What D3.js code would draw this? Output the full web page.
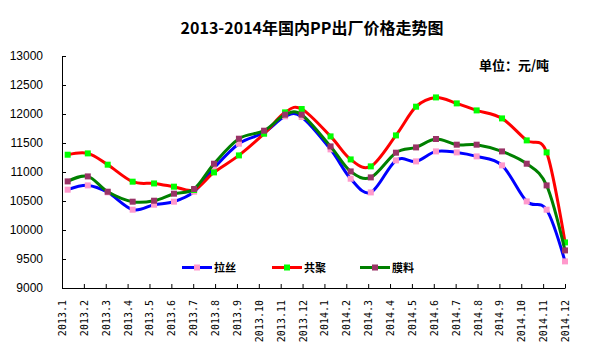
<!DOCTYPE html>
<html><head><meta charset="utf-8">
<script src="https://cdn.jsdelivr.net/npm/d3@7"></script>
<style>html,body{margin:0;padding:0;background:#fff;}</style>
</head><body>
<script>
// ---- data ----
const monthLabels = ["2013.1","2013.2","2013.3","2013.4","2013.5","2013.6","2013.7","2013.8","2013.9","2013.10","2013.11","2013.12",
  "2014.1","2014.2","2014.3","2014.4","2014.5","2014.6","2014.7","2014.8","2014.9","2014.10","2014.11","2014.12"];
// position of each observation on the month axis (month index + fraction of month)
const obsPos = [0.26,1.18,2.09,3.23,4.21,5.12,6.04,6.95,8.09,9.24,10.20,10.96,
  12.28,13.20,14.12,15.27,16.19,17.10,18.05,18.96,20.12,21.25,22.16,23.00];
const seriesNames = ["拉丝","共聚","膜料"];
const lasi   = [10695,10769,10650,10350,10436,10488,10660,11069,11488,11680,11960,11948,
  11390,10884,10648,11200,11183,11355,11338,11269,11114,10493,10350,9459];
const gongju = [11298,11321,11126,10833,10803,10747,10690,10993,11286,11660,12028,12086,
  11614,11217,11097,11631,12126,12286,12183,12062,11924,11545,11338,9786];
const moliao = [10838,10924,10660,10488,10505,10626,10707,11143,11574,11712,11988,11988,
  11441,11010,10907,11333,11424,11569,11471,11471,11355,11143,10769,9648];
const yTicks = [9000,9500,10000,10500,11000,11500,12000,12500,13000];
const lineColors = ["#0000FF","#FF0000","#008000"];
const markerColors = ["#FF99CC","#00FF00","#993366"];

const W = 614, H = 356;
const svg = d3.select("body").append("svg").attr("width", W).attr("height", H)
  .style("font-family", "'Liberation Sans', Arial, sans-serif");

const x = d3.scaleLinear().domain([0, monthLabels.length - 1]).range([62, 565]);
const y = d3.scaleLinear().domain([9000, 13000]).range([288, 56]);

// title
svg.append("text").attr("x", 312).attr("y", 34).attr("text-anchor", "middle")
  .style("font-family", "'Noto Sans CJK SC', sans-serif").style("font-weight", "bold")
  .style("font-size", "16px").text("2013-2014年国内PP出厂价格走势图");
// unit
svg.append("text").attr("x", 479).attr("y", 70)
  .style("font-family", "'Noto Sans CJK SC', sans-serif").style("font-weight", "bold")
  .style("font-size", "13px").text("单位：元/吨");

// y axis
const yAxis = d3.axisLeft(y).tickValues(yTicks).tickSizeInner(-4).tickSizeOuter(0).tickPadding(19).tickFormat(d3.format("d"));
const gy = svg.append("g").attr("transform", "translate(62,0)").call(yAxis);
gy.selectAll("text").style("font-size", "12px").style("font-family", "'Liberation Sans', Arial, sans-serif").attr("fill", "#000");
gy.selectAll("line,path").attr("stroke", "#000");

// x axis
const xAxis = d3.axisBottom(x).tickValues(d3.range(monthLabels.length)).tickSizeInner(-4).tickSizeOuter(0)
  .tickFormat(i => monthLabels[i]);
const gx = svg.append("g").attr("transform", "translate(0,288)").call(xAxis);
gx.selectAll("line,path").attr("stroke", "#000");
gx.selectAll("text")
  .style("font-size", "10px").style("font-family", "'DejaVu Sans Mono', 'Liberation Mono', monospace").attr("fill", "#000")
  .attr("text-anchor", "end").attr("y", 0).attr("dy", "0.35em")
  .attr("transform", "translate(0,12) rotate(-90)");

// series
const allSeries = [lasi, gongju, moliao];
const line = d3.line().x(d => x(d[0])).y(d => y(d[1])).curve(d3.curveCatmullRom.alpha(0));
allSeries.forEach((vals, si) => {
  const pts = vals.map((v, i) => [obsPos[i], v]);
  const g = svg.append("g");
  g.append("path").attr("d", line(pts)).attr("fill", "none")
    .attr("stroke", lineColors[si]).attr("stroke-width", 3);
  g.selectAll("rect").data(pts).enter().append("rect")
    .attr("x", d => x(d[0]) - 3).attr("y", d => y(d[1]) - 3)
    .attr("width", 6).attr("height", 6).attr("fill", markerColors[si]);
});

// legend
const legX = [182, 272, 360];
const legY = 267.5;
seriesNames.forEach((name, si) => {
  const g = svg.append("g");
  g.append("line").attr("x1", legX[si]).attr("x2", legX[si] + 30).attr("y1", legY).attr("y2", legY)
    .attr("stroke", lineColors[si]).attr("stroke-width", 3);
  g.append("rect").attr("x", legX[si] + 12).attr("y", legY - 3).attr("width", 6).attr("height", 6)
    .attr("fill", markerColors[si]);
  g.append("text").attr("x", legX[si] + 32).attr("y", legY).attr("dy", "0.38em")
    .style("font-family", "'Noto Sans CJK SC', sans-serif").style("font-weight", "bold")
    .style("font-size", "11px").text(name);
});
</script>
</body></html>
